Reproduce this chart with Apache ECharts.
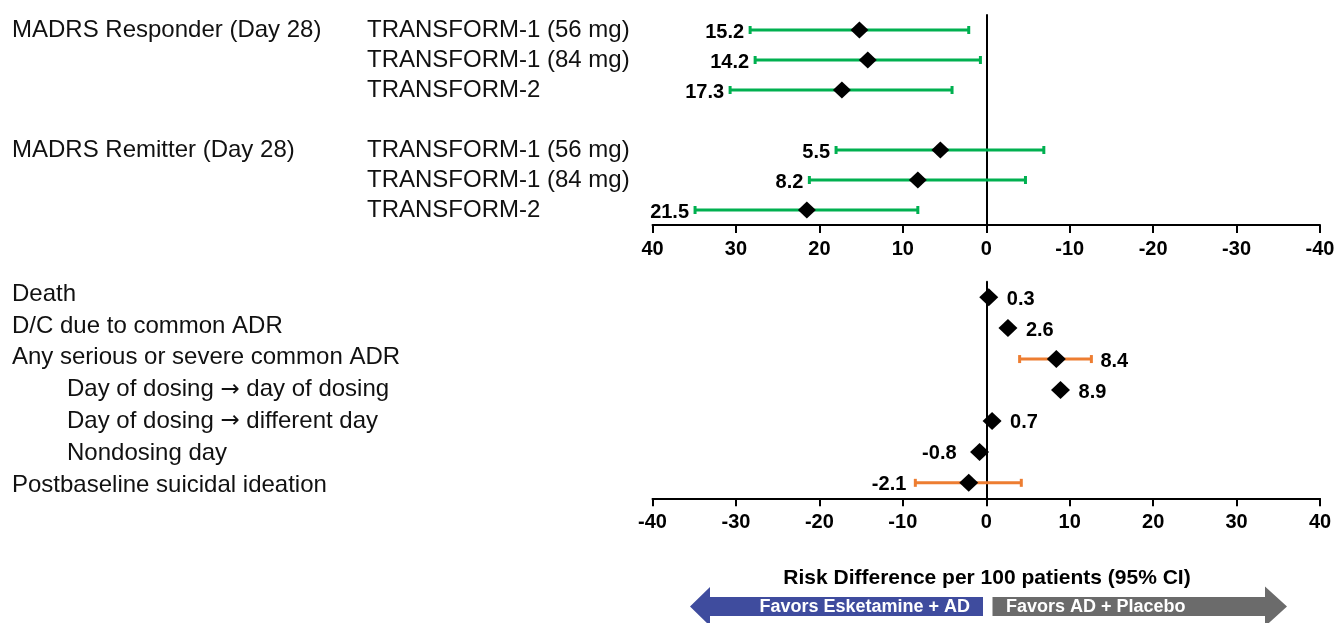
<!DOCTYPE html>
<html><head><meta charset="utf-8">
<script src="https://cdn.jsdelivr.net/npm/echarts@6/dist/echarts.min.js"></script>
<style>html,body{margin:0;padding:0;background:#fff}#c{width:1336px;height:623px}</style>
</head><body><div id="c"></div>
<script>
// ---------- data ----------
const topGroups = ['MADRS Responder (Day 28)', '', '', '', 'MADRS Remitter (Day 28)', '', ''];
const topStudies = ['TRANSFORM-1 (56 mg)', 'TRANSFORM-1 (84 mg)', 'TRANSFORM-2', '', 'TRANSFORM-1 (56 mg)', 'TRANSFORM-1 (84 mg)', 'TRANSFORM-2'];
const topEst  = [15.2, 14.2, 17.3, null, 5.5, 8.2, 21.5];
const topLow  = [2.1, 0.7, 4.1, null, -6.9, -4.7, 8.2];
const topHigh = [28.3, 27.7, 30.7, null, 18.0, 21.2, 34.9];

const botLabels = ['Death', 'D/C due to common ADR', 'Any serious or severe common ADR',
  'Day of dosing \u2192 day of dosing', 'Day of dosing \u2192 different day', 'Nondosing day',
  'Postbaseline suicidal ideation'];
const botLevel = [0, 0, 0, 1, 1, 1, 0];
const botEst  = [0.3, 2.6, 8.4, 8.9, 0.7, -0.8, -2.1];
const botLow  = [null, null, 4.0, null, null, null, -8.5];
const botHigh = [null, null, 12.6, null, null, null, 4.2];

const xTicksMin = -40, xTicksMax = 40, xTickStep = 10;
const axisTitle = 'Risk Difference per 100 patients (95% CI)';
const favorLeft = 'Favors Esketamine + AD';
const favorRight = 'Favors AD + Placebo';

// ---------- chart ----------
const FONT = "'Liberation Sans', Arial, Helvetica, sans-serif";
const GREEN = '#00B050', ORANGE = '#ED7D31';
const chart = echarts.init(document.getElementById('c'), null, {renderer: 'canvas'});

const gridLeft = 652.5, gridRight = 16;
const labelMargin = gridLeft - 12;

function errBar(color) {
  return function (params, api) {
    const y = api.value(2);
    const p1 = api.coord([api.value(0), y]);
    const p2 = api.coord([api.value(1), y]);
    const st = {stroke: color, lineWidth: 3};
    return {type: 'group', children: [
      {type: 'line', shape: {x1: p1[0], y1: p1[1], x2: p2[0], y2: p2[1]}, style: st},
      {type: 'line', shape: {x1: p1[0], y1: p1[1] - 4, x2: p1[0], y2: p1[1] + 4}, style: st},
      {type: 'line', shape: {x1: p2[0], y1: p2[1] - 4, x2: p2[0], y2: p2[1] + 4}, style: st}
    ]};
  };
}

function xAxisCfg(grid, inverse, show) {
  return {
    gridIndex: grid, type: 'value', min: xTicksMin, max: xTicksMax, interval: xTickStep, inverse: inverse, show: show,
    axisLine: {show: true, onZero: false, lineStyle: {color: '#000', width: 2}},
    axisTick: {show: true, length: 8, lineStyle: {color: '#000', width: 2}},
    axisLabel: {color: '#000', fontWeight: 'bold', fontSize: 20, fontFamily: FONT, margin: 14},
    splitLine: {show: false}
  };
}

const labelFont = {fontSize: 24, fontFamily: FONT, color: '#111'};

// top rows
const topCI = [], topPts = [], topLbl = [];
topEst.forEach((e, i) => {
  if (e == null) return;
  topPts.push([e, i]);
  if (topLow[i] != null) topCI.push([topLow[i], topHigh[i], i]);
  topLbl.push({value: [Math.max(topLow[i], topHigh[i]), i, e], label: {position: 'left', distance: 6}});
});
// bottom rows
const botCI = [], botPts = [], botLbl = [];
botEst.forEach((e, i) => {
  botPts.push([e, i]);
  const hasCI = botLow[i] != null;
  if (hasCI) botCI.push([botLow[i], botHigh[i], i]);
  const neg = e < 0;
  const anchor = hasCI ? (neg ? botLow[i] : botHigh[i]) : e;
  botLbl.push({value: [anchor, i, e], label: {position: neg ? 'left' : 'right', distance: hasCI ? 9 : (neg ? 23 : 18)}});
});

const valLabel = {show: true, color: '#000', fontWeight: 'bold', fontSize: 20, fontFamily: FONT,
  offset: [0, 2], formatter: p => p.value[2].toFixed(1)};

function botLabelRich(i) {
  const parts = botLabels[i].split('\u2192');
  const first = botLevel[i] ? 'i' : 't';
  if (parts.length === 1) return `{${first}|${parts[0]}}`;
  return `{${first}|${parts[0]}}{a|\u2192}{t|${parts[1]}}`;
}

const option = {
  animation: false,
  backgroundColor: '#fff',
  grid: [
    {left: gridLeft, right: gridRight, top: 15, height: 210, containLabel: false, outerBoundsMode: 'none'},
    {left: gridLeft, right: gridRight, top: 281.7, height: 216.6, containLabel: false, outerBoundsMode: 'none'},
    {left: gridLeft, right: gridRight, top: 278.3, height: 222.6, containLabel: false, outerBoundsMode: 'none'}
  ],
  xAxis: [xAxisCfg(0, true, true), xAxisCfg(1, false, true), xAxisCfg(2, false, false)],
  yAxis: [
    {gridIndex: 0, type: 'category', inverse: true, data: topStudies.map((_, i) => String(i)),
      axisLine: {show: true, onZero: true, lineStyle: {color: '#000', width: 2}}, axisTick: {show: false},
      splitLine: {show: false},
      axisLabel: {interval: 0, align: 'left', margin: labelMargin,
        formatter: (v) => {
          const i = Number(v);
          if (!topStudies[i]) return '';
          return topGroups[i] ? `{g|${topGroups[i]}}{s|${topStudies[i]}}` : `{p|${topStudies[i]}}`;
        },
        rich: {g: Object.assign({width: 355}, labelFont), s: labelFont,
               p: Object.assign({padding: [0, 0, 0, 355]}, labelFont)}}},
    {gridIndex: 1, type: 'category', inverse: true, data: botLabels.map((_, i) => String(i)),
      axisLine: {show: true, onZero: true, lineStyle: {color: '#000', width: 2}}, axisTick: {show: false},
      splitLine: {show: false}, axisLabel: {show: false}},
    {gridIndex: 2, type: 'category', inverse: true, data: botLabels.map((_, i) => String(i)),
      axisLine: {show: false, onZero: false}, axisTick: {show: false},
      splitLine: {show: false},
      axisLabel: {interval: 0, align: 'left', margin: labelMargin,
        formatter: (v) => botLabelRich(Number(v)),
        rich: {t: labelFont, i: Object.assign({padding: [0, 0, 0, 55]}, labelFont),
               a: {fontSize: 23, fontFamily: "'DejaVu Sans', sans-serif", color: '#111'}}}}
  ],
  series: [
    {type: 'custom', xAxisIndex: 0, yAxisIndex: 0, renderItem: errBar(GREEN), data: topCI, z: 2, silent: true},
    {type: 'scatter', xAxisIndex: 0, yAxisIndex: 0, symbol: 'diamond', symbolSize: [18, 17], data: topPts,
      itemStyle: {color: '#000', opacity: 1}, z: 4, silent: true},
    {type: 'scatter', xAxisIndex: 0, yAxisIndex: 0, symbolSize: 0, data: topLbl, label: valLabel,
      itemStyle: {opacity: 1}, z: 5, silent: true},
    {type: 'custom', xAxisIndex: 1, yAxisIndex: 1, renderItem: errBar(ORANGE), data: botCI, z: 2, silent: true},
    {type: 'scatter', xAxisIndex: 1, yAxisIndex: 1, symbol: 'diamond', symbolSize: [19, 18], data: botPts,
      itemStyle: {color: '#000', opacity: 1}, z: 4, silent: true},
    {type: 'scatter', xAxisIndex: 1, yAxisIndex: 1, symbolSize: 0, data: botLbl, label: valLabel,
      itemStyle: {opacity: 1}, z: 5, silent: true}
  ],
  graphic: [
    {type: 'text', x: 987, y: 578, style: {text: axisTitle, fill: '#000', font: `bold 21px ${FONT}`,
      textAlign: 'center', textVerticalAlign: 'middle'}},
    {type: 'polygon', shape: {points: [[690, 606.5], [710, 587], [710, 597], [983, 597], [983, 616], [710, 616], [710, 626]]},
      style: {fill: '#3F4C9E'}},
    {type: 'polygon', shape: {points: [[992.5, 597], [1265, 597], [1265, 586.5], [1287, 606.5], [1265, 626.5], [1265, 616], [992.5, 616]]},
      style: {fill: '#6B6B6B'}},
    {type: 'text', x: 970, y: 607, style: {text: favorLeft, fill: '#fff', font: `bold 18px ${FONT}`,
      textAlign: 'right', textVerticalAlign: 'middle'}},
    {type: 'text', x: 1006, y: 607, style: {text: favorRight, fill: '#fff', font: `bold 18px ${FONT}`,
      textAlign: 'left', textVerticalAlign: 'middle'}}
  ]
};
chart.setOption(option);
</script></body></html>
